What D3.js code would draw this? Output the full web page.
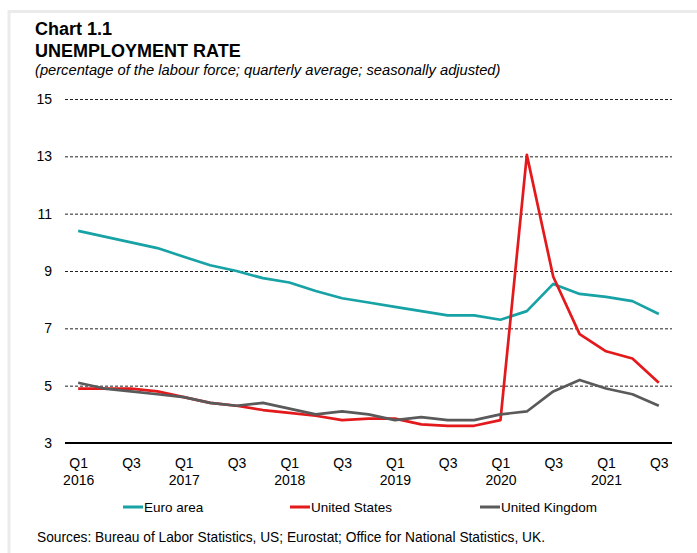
<!DOCTYPE html>
<html>
<head>
<meta charset="utf-8">
<script src="https://cdn.jsdelivr.net/npm/d3@7"></script>
<style>
  html, body { margin: 0; padding: 0; background: #fff; }
  svg { display: block; font-family: "Liberation Sans", Arial, sans-serif; }
</style>
</head>
<body>
<svg id="chart" width="697" height="553"></svg>
<script>
// Quarterly periods, Q1 2016 – Q3 2021
const quarters = [
  "2016Q1","2016Q2","2016Q3","2016Q4",
  "2017Q1","2017Q2","2017Q3","2017Q4",
  "2018Q1","2018Q2","2018Q3","2018Q4",
  "2019Q1","2019Q2","2019Q3","2019Q4",
  "2020Q1","2020Q2","2020Q3","2020Q4",
  "2021Q1","2021Q2","2021Q3"
];

// Unemployment rate, % of labour force
const euroArea = [10.4, 10.2, 10.0, 9.8, 9.5, 9.2, 9.0, 8.75, 8.6, 8.3, 8.05, 7.9, 7.75, 7.6, 7.45, 7.45, 7.3, 7.6, 8.55, 8.2, 8.1, 7.95, 7.5];
const unitedStates = [4.9, 4.9, 4.9, 4.8, 4.6, 4.4, 4.3, 4.15, 4.05, 3.95, 3.8, 3.85, 3.85, 3.65, 3.6, 3.6, 3.8, 13.05, 8.8, 6.8, 6.2, 5.95, 5.1];
const unitedKingdom = [5.1, 4.9, 4.8, 4.7, 4.6, 4.4, 4.3, 4.4, 4.2, 4.0, 4.1, 4.0, 3.8, 3.9, 3.8, 3.8, 4.0, 4.1, 4.8, 5.2, 4.9, 4.7, 4.3];

const seriesNames = ["Euro area", "United States", "United Kingdom"];
const seriesColors = ["#17a2a6", "#e3191b", "#5a5a5a"];
const seriesValues = [euroArea, unitedStates, unitedKingdom];

const yTicks = [3, 5, 7, 9, 11, 13, 15];
// Labelled quarters: Q1 and Q3 of each year
const xTickLabels = {
  "2016Q1": ["Q1", "2016"], "2016Q3": ["Q3", ""],
  "2017Q1": ["Q1", "2017"], "2017Q3": ["Q3", ""],
  "2018Q1": ["Q1", "2018"], "2018Q3": ["Q3", ""],
  "2019Q1": ["Q1", "2019"], "2019Q3": ["Q3", ""],
  "2020Q1": ["Q1", "2020"], "2020Q3": ["Q3", ""],
  "2021Q1": ["Q1", "2021"], "2021Q3": ["Q3", ""]
};

const svg = d3.select("#chart");

// Frame
svg.append("line").attr("x1", 9).attr("x2", 697).attr("y1", 11.5).attr("y2", 11.5)
  .attr("stroke", "#ebebeb").attr("stroke-width", 3);
svg.append("line").attr("x1", 9).attr("x2", 9).attr("y1", 10).attr("y2", 553)
  .attr("stroke", "#ebebeb").attr("stroke-width", 3);

// Titles
svg.append("text").attr("x", 35).attr("y", 35)
  .attr("font-size", 18).attr("font-weight", "bold").attr("fill", "#000")
  .text("Chart 1.1");
svg.append("text").attr("x", 35).attr("y", 57)
  .attr("font-size", 18).attr("font-weight", "bold").attr("fill", "#000")
  .text("UNEMPLOYMENT RATE");
svg.append("text").attr("x", 35).attr("y", 75)
  .attr("font-size", 14.7).attr("font-style", "italic").attr("fill", "#000")
  .text("(percentage of the labour force; quarterly average; seasonally adjusted)");

// Scales
const plotLeft = 65, plotRight = 672, plotTop = 99, plotBottom = 443;
const x = d3.scalePoint().domain(quarters).range([plotLeft, plotRight]).padding(0.5);
const y = d3.scaleLinear().domain([3, 15]).range([plotBottom, plotTop]);

// Horizontal dashed gridlines
const grid = svg.append("g")
  .attr("transform", `translate(${plotLeft},0)`)
  .call(d3.axisLeft(y).tickValues(yTicks.filter(t => t !== 3))
    .tickSize(-(plotRight - plotLeft)).tickFormat(""));
grid.select(".domain").remove();
grid.selectAll(".tick line")
  .attr("stroke", "#222").attr("stroke-width", 1).attr("stroke-dasharray", "3,2");

// Y-axis labels
const yAxis = svg.append("g")
  .attr("transform", `translate(${plotLeft},0)`)
  .call(d3.axisLeft(y).tickValues(yTicks).tickSize(0).tickPadding(13).tickFormat(d3.format("d")));
yAxis.select(".domain").remove();
yAxis.selectAll("text").attr("font-size", 14).attr("fill", "#000")
  .attr("font-family", "Liberation Sans, Arial, sans-serif");

// X axis baseline and two-line labels
const xAxis = svg.append("g")
  .attr("transform", `translate(0,${plotBottom})`)
  .call(d3.axisBottom(x).tickValues(Object.keys(xTickLabels)).tickSize(0).tickFormat(""));
xAxis.select(".domain").attr("d", `M${plotLeft},0H${plotRight}`)
  .attr("stroke", "#000").attr("stroke-width", 2);
xAxis.selectAll(".tick").each(function(d) {
  const t = d3.select(this).append("text")
    .attr("fill", "#000").attr("font-size", 14).attr("text-anchor", "middle")
    .attr("font-family", "Liberation Sans, Arial, sans-serif");
  t.append("tspan").attr("x", 0).attr("y", 25).text(xTickLabels[d][0]);
  t.append("tspan").attr("x", 0).attr("y", 42).text(xTickLabels[d][1]);
});

// Lines
const line = d3.line().x((d, i) => x(quarters[i])).y(d => y(d));
seriesValues.forEach((vals, k) => {
  svg.append("path").datum(vals)
    .attr("fill", "none").attr("stroke", seriesColors[k])
    .attr("stroke-width", 2.7).attr("stroke-linejoin", "round")
    .attr("d", line);
});

// Legend
const legendX = [123, 290, 480];
const legend = svg.append("g");
seriesNames.forEach((name, k) => {
  legend.append("line").attr("x1", legendX[k]).attr("x2", legendX[k] + 20)
    .attr("y1", 507).attr("y2", 507)
    .attr("stroke", seriesColors[k]).attr("stroke-width", 3);
  legend.append("text").attr("x", legendX[k] + 21).attr("y", 512)
    .attr("font-size", 13.5).attr("fill", "#000").text(name);
});

// Sources
svg.append("text").attr("x", 37).attr("y", 542)
  .attr("font-size", 13.75).attr("fill", "#000")
  .text("Sources: Bureau of Labor Statistics, US; Eurostat; Office for National Statistics, UK.");
</script>
</body>
</html>
